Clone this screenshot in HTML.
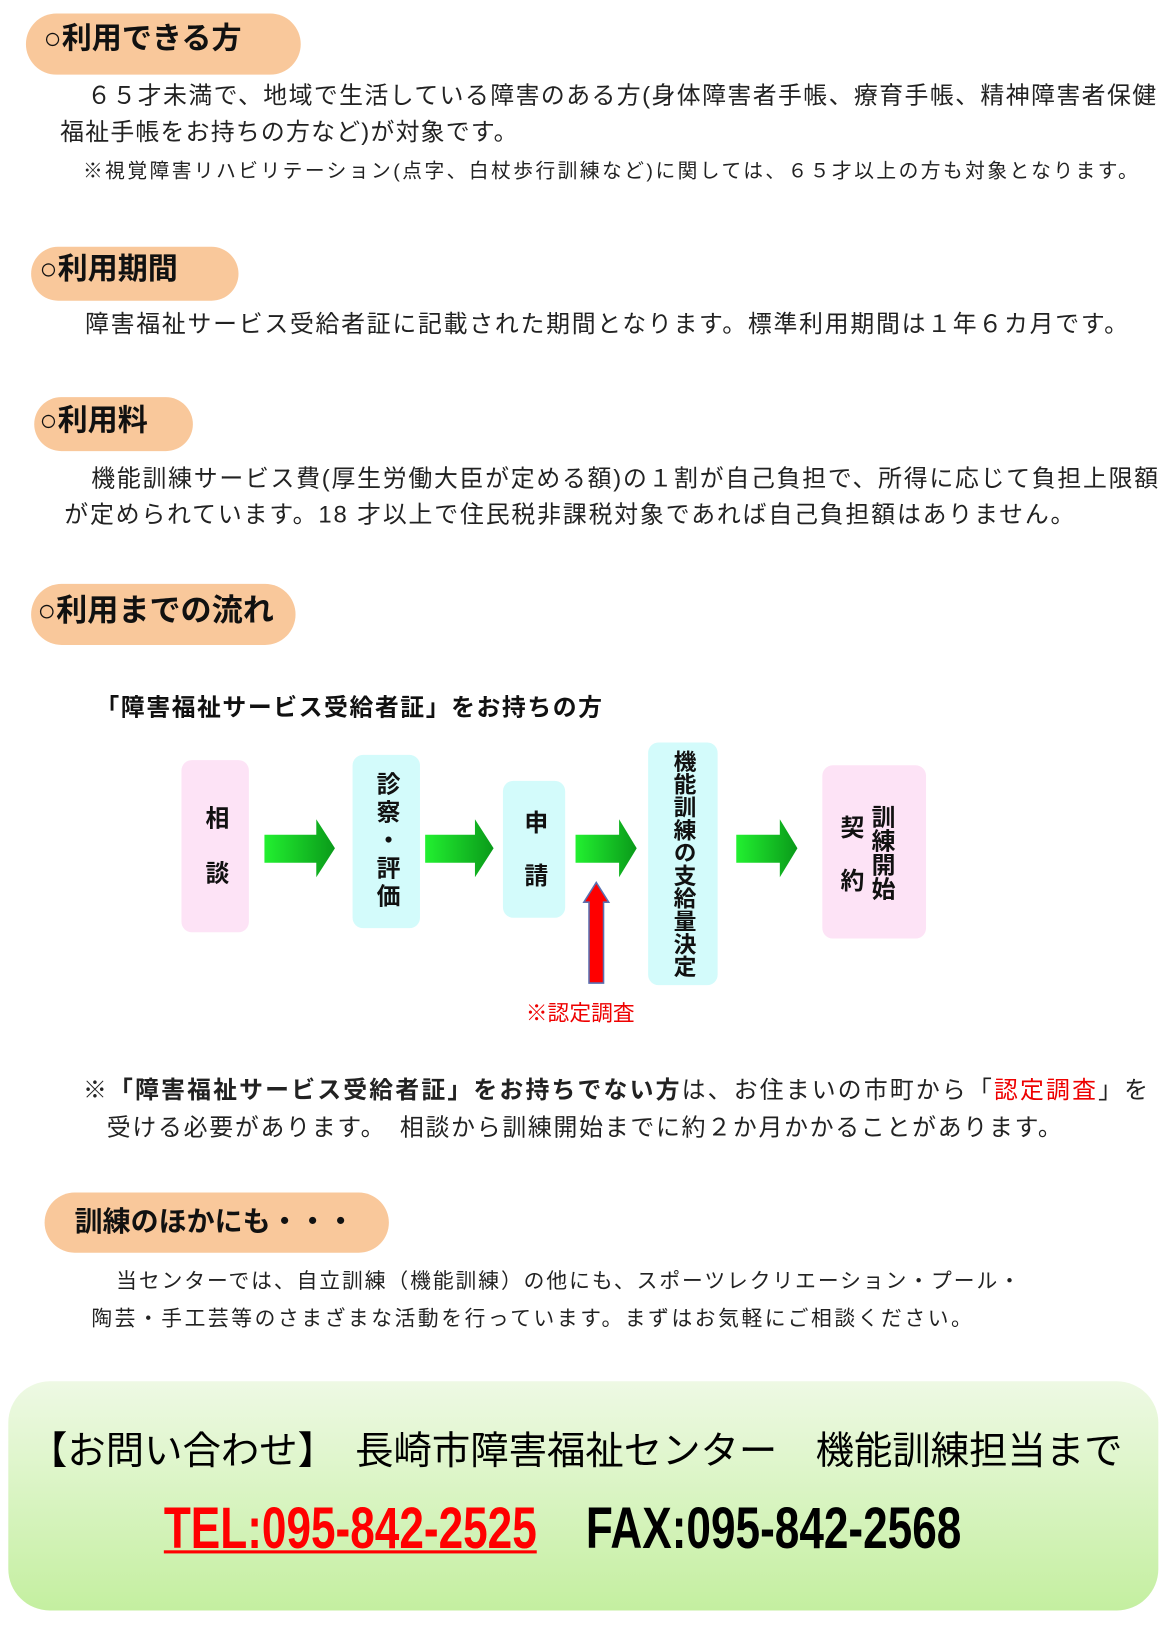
<!DOCTYPE html>
<html style="overflow:hidden;width:1164px;height:1628px"><head><meta charset="utf-8"><style>
html,body{margin:0;padding:0}
body{width:1164px;height:1628px;background:#fff;position:relative;overflow:hidden;font-family:"Liberation Sans","Noto Sans CJK JP",sans-serif;color:#222}
#w{position:absolute;left:0;top:0;width:1120px;height:1568px;overflow:hidden;transform:scale(1.037);transform-origin:0 0}
.a{position:absolute;white-space:nowrap;line-height:1}
.pill{position:absolute;background:#f9c89b;border-radius:40px}
.h{font-weight:bold;font-size:29px;color:#111}
.t{font-size:23px;letter-spacing:1.2px}
.box{position:absolute;border-radius:10px;font-weight:bold;font-size:23px;color:#111;display:flex;align-items:center;justify-content:center}
.v{writing-mode:vertical-rl;line-height:1.15}
.pink{background:#fde3f6}.cyan{background:#d3fbfb}
</style></head><body><div id="w">
<div class="pill" style="left:25px;top:13px;width:265px;height:59px"></div>
<div class="a h" style="left:42px;top:24px">○利用できる方</div>
<div class="a t" style="left:84px;top:81px;letter-spacing:1.4px">６５才未満で、地域で生活している障害のある方(身体障害者手帳、療育手帳、精神障害者保健</div>
<div class="a t" style="left:58px;top:116px">福祉手帳をお持ちの方など)が対象です。</div>
<div class="a" style="left:80px;top:156px;font-size:19px;letter-spacing:2.4px">※視覚障害リハビリテーション(点字、白杖歩行訓練など)に関しては、６５才以上の方も対象となります。</div>

<div class="pill" style="left:30px;top:238px;width:200px;height:52px"></div>
<div class="a h" style="left:38px;top:246px">○利用期間</div>
<div class="a t" style="left:82px;top:301px;letter-spacing:1.7px">障害福祉サービス受給者証に記載された期間となります。標準利用期間は１年６カ月です。</div>

<div class="pill" style="left:33px;top:383px;width:153px;height:52px"></div>
<div class="a h" style="left:38px;top:392px">○利用料</div>
<div class="a t" style="left:88px;top:450px;letter-spacing:1.7px">機能訓練サービス費(厚生労働大臣が定める額)の１割が自己負担で、所得に応じて負担上限額</div>
<div class="a t" style="left:62px;top:485px;letter-spacing:1.8px">が定められています。18 才以上で住民税非課税対象であれば自己負担額はありません。</div>

<div class="pill" style="left:30px;top:563px;width:255px;height:59px"></div>
<div class="a h" style="left:36px;top:575px;font-size:30px">○利用までの流れ</div>

<div class="a" style="left:92px;top:671px;font-size:23px;font-weight:bold;color:#111;letter-spacing:1.5px">「障害福祉サービス受給者証」をお持ちの方</div>

<div class="box pink" style="left:175px;top:733px;width:65px;height:166px"><span class="v" style="letter-spacing:30px;margin-top:28px">相談</span></div>
<div class="box cyan" style="left:340px;top:728px;width:65px;height:167px"><span class="v" style="letter-spacing:4px">診察・評価</span></div>
<div class="box cyan" style="left:485px;top:753px;width:60px;height:132px"><span class="v" style="letter-spacing:28px;margin-top:26px">申請</span></div>
<div class="box cyan" style="left:625px;top:716px;width:67px;height:234px"><span class="v" style="line-height:1.1;font-size:22px">機能訓練の支給量決定</span></div>
<div class="box pink" style="left:793px;top:738px;width:100px;height:167px"></div>
<div class="a v" style="left:838px;top:776px;font-size:23px;font-weight:bold;color:#111;line-height:1">訓練開始</div>
<div class="a v" style="left:808px;top:786px;font-size:23px;font-weight:bold;color:#111;line-height:1;letter-spacing:28px">契約</div>

<svg style="position:absolute;left:0;top:0" width="1120" height="1568">
<defs><linearGradient id="g" x1="0" x2="1"><stop offset="0" stop-color="#22f030"/><stop offset="1" stop-color="#0a9a1a"/></linearGradient>
<linearGradient id="bg" x1="0" y1="0" x2="0" y2="1"><stop offset="0" stop-color="#eef9e4"/><stop offset="1" stop-color="#c4efa0"/></linearGradient></defs>
<g fill="url(#g)">
<polygon points="255,805 305,805 305,790 323,818 305,846 305,832 255,832"/>
<polygon points="410,805 458,805 458,790 476,818 458,846 458,832 410,832"/>
<polygon points="555,805 597,805 597,790 614,818 597,846 597,832 555,832"/>
<polygon points="710,805 752,805 752,790 769,818 752,846 752,832 710,832"/>
</g>
<polygon points="568,870 568,948 582,948 582,870 587,870 575,851 563,870" fill="#f00" stroke="#5a6fb0" stroke-width="1.5"/>
<rect x="8" y="1332" width="1109" height="221" rx="40" fill="url(#bg)"/>
</svg>
<div class="a" style="left:507px;top:967px;font-size:21px;color:#e00">※認定調査</div>

<div class="a t" style="left:80px;top:1040px;letter-spacing:2.1px"><b>※「障害福祉サービス受給者証」をお持ちでない方</b>は、お住まいの市町から「<span style="color:#e00">認定調査</span>」を</div>
<div class="a t" style="left:103px;top:1076px;letter-spacing:1.7px">受ける必要があります。　相談から訓練開始までに約２か月かかることがあります。</div>

<div class="pill" style="left:43px;top:1150px;width:332px;height:58px"></div>
<div class="a h" style="left:72px;top:1165px;font-size:27px">訓練のほかにも・・・</div>
<div class="a" style="left:112px;top:1226px;font-size:20px;letter-spacing:1.9px">当センターでは、自立訓練（機能訓練）の他にも、スポーツレクリエーション・プール・</div>
<div class="a" style="left:88px;top:1262px;font-size:20px;letter-spacing:2.5px">陶芸・手工芸等のさまざまな活動を行っています。まずはお気軽にご相談ください。</div>

<div class="a" style="left:28px;top:1381px;font-size:37px;color:#000;letter-spacing:0px">【お問い合わせ】　長崎市障害福祉センター　機能訓練担当まで</div>
<div class="a" style="left:158px;top:1446px;font-size:56px;font-weight:bold;color:#f00;transform:scaleX(0.76);transform-origin:left;text-decoration:underline;text-decoration-thickness:3px">TEL:095-842-2525</div>
<div class="a" style="left:565px;top:1446px;font-size:56px;font-weight:bold;color:#000;transform:scaleX(0.76);transform-origin:left">FAX:095-842-2568</div>
</div></body></html>
